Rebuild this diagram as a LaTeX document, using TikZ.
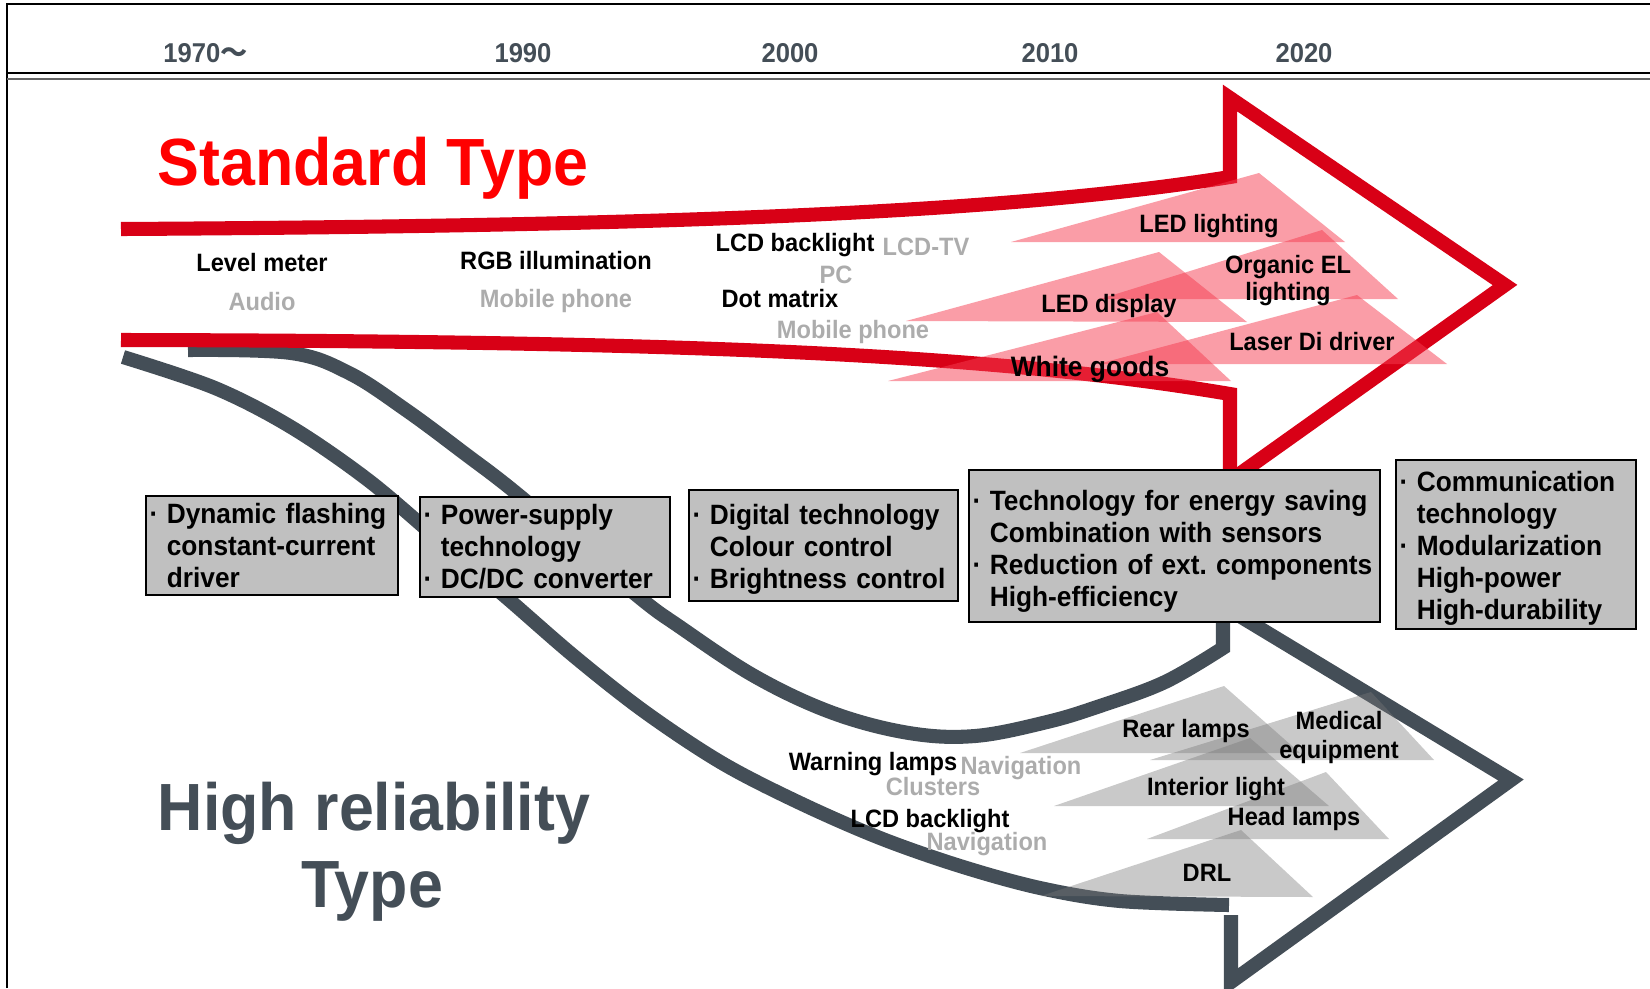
\documentclass[tikz,border=0pt]{standalone}
\usepackage{fontspec}
\setmainfont[FakeStretch=0.94]{Liberation Sans}
\newfontfamily\cjkfont{Noto Sans CJK JP}

\definecolor{stdred}{RGB}{216,0,22}
\definecolor{titlered}{RGB}{255,0,0}
\definecolor{slate}{RGB}{68,78,87}
\definecolor{oldgrey}{RGB}{172,172,172}
\definecolor{boxgrey}{RGB}{192,192,192}
\definecolor{finred}{RGB}{245,60,80}
\definecolor{fingrey}{RGB}{120,120,120}

\newcommand{\techdot}{\makebox[0.62em][l]{·}}
\newcommand{\techpad}{\hspace*{0.62em}}

\begin{document}
\begin{tikzpicture}[x=0.02cm, y=-0.02cm,
    band/.style={line width=8pt, line join=miter},
    redfin/.style={fill=finred, fill opacity=0.5},
    greyfin/.style={fill=fingrey, fill opacity=0.4},
    app/.style={font=\fontsize{14.3}{16}\selectfont\bfseries, inner sep=0pt, anchor=base},
    old/.style={app, text=oldgrey},
    yr/.style={font=\fontsize{15.5}{18}\selectfont\bfseries, text=slate, inner sep=0pt, anchor=base},
    big/.style={font=\fontsize{38}{44}\selectfont\bfseries, inner sep=0pt, anchor=base},
    tech/.style={draw=black, line width=1.1pt, fill=boxgrey, inner xsep=2pt, inner ysep=2pt,
                 align=left, font=\fontsize{15.9}{18.2}\selectfont\bfseries\frenchspacing}]

\useasboundingbox (0,0) rectangle (1650,988);

% frame and time axis
\draw[line width=1.3pt] (7,988) -- (7,4) -- (1650,4);
\draw[line width=1.4pt] (7,73) -- (1650,73);
\draw[line width=1.4pt, black!60] (7,79) -- (1650,79);

\node[yr, anchor=base west] (y70) at (163,62) {1970{\cjkfont ～}};
\node[yr] (y90) at (523,62) {1990};
\node[yr] (y00) at (790,62) {2000};
\node[yr] (y10) at (1050,62) {2010};
\node[yr] (y20) at (1304,62) {2020};

% high reliability arrow
\draw[band, slate] plot[smooth, tension=0.55] coordinates {(123,357) (215,388) (291,427) (368,480) (440,541) (507,598) (575,657) (645,712) (722,763) (800,803) (880,838) (960,866) (1040,888) (1120,901) (1229,905)};
\draw[band, slate] plot[smooth, tension=0.6] coordinates {(188,350) (291,353) (349,373) (406,410) (464,453) (521,497) (634,593) (680,627) (756,677) (833,713) (909,733) (975,736) (1047,722) (1100,706) (1165,682) (1223,648)} -- (1223,612);
\draw[band, slate] (1231,915) -- (1231,982) -- (1511,780) -- (1233,612);

% standard arrow
\draw[band, stdred] (121,229) .. controls (650,226) and (1000,214) .. (1230,177) -- (1230,98) -- (1505,285) -- (1231,480);
\draw[band, stdred] (121,340) .. controls (700,341) and (1000,355) .. (1230,394) -- (1230,480);

% application fins
\fill[redfin] (1011,242) -- (1259,173) -- (1345,242) -- cycle;
\fill[redfin] (1100,299) -- (1322,230) -- (1398,299) -- cycle;
\fill[redfin] (906,321) -- (1159,252) -- (1247,322) -- cycle;
\fill[redfin] (1098,364) -- (1357,295) -- (1447,364) -- cycle;
\fill[redfin] (888,381) -- (1157,312) -- (1231,381) -- cycle;

\fill[greyfin] (1020,753) -- (1224,686) -- (1300,753) -- cycle;
\fill[greyfin] (1150,760) -- (1371,692) -- (1434,760) -- cycle;
\fill[greyfin] (1054,806) -- (1250,738) -- (1329,806) -- cycle;
\fill[greyfin] (1147,839) -- (1326,772) -- (1389,839) -- cycle;
\fill[greyfin] (1041,896) -- (1241,830) -- (1313,897) -- cycle;

% technology boxes
\node[tech, text width=4.90cm, minimum height=1.98cm] (b1) at (272,545.5)
  {\techdot Dynamic flashing\\ \techpad constant-current\\ \techpad driver};
\node[tech, text width=4.86cm, minimum height=2.00cm] (b2) at (545,547)
  {\techdot Power-supply\\ \techpad technology\\ \techdot DC/DC converter};
\node[tech, text width=5.24cm, minimum height=2.22cm] (b3) at (823.5,545.5)
  {\rule{0pt}{15.9pt}\techdot Digital technology\\ \techpad Colour control\\ \techdot Brightness control};
\node[tech, text width=8.08cm, minimum height=3.04cm] (b4) at (1174.5,546)
  {\rule{0pt}{18pt}\techdot Technology for energy saving\\ \techpad Combination with sensors\\ \techdot Reduction of ext.\ components\\ \techpad High-efficiency};
\node[tech, text width=4.66cm, minimum height=3.38cm] (b5) at (1516,544.5)
  {\rule{0pt}{16.2pt}\techdot Communication\\ \techpad technology\\ \techdot Modularization\\ \techpad High-power\\ \techpad High-durability};

% standard type applications
\node[app] (lvl) at (262,271) {Level meter};
\node[old] (aud) at (262,310) {Audio};
\node[app] (rgb) at (556,269) {RGB illumination};
\node[old] (mob1) at (556,307) {Mobile phone};
\node[app] (lcd1) at (795,251) {LCD backlight};
\node[old] (tv) at (926,255) {LCD-TV};
\node[old] (pc) at (836,283) {PC};
\node[app] (dot) at (780,307) {Dot matrix};
\node[old] (mob2) at (853,338) {Mobile phone};
\node[app] (ledl) at (1209,232) {LED lighting};
\node[app] (oel) at (1288,273) {Organic EL};
\node[app] (oel2) at (1288,300) {lighting};
\node[app] (ledd) at (1109,312) {LED display};
\node[app] (lsr) at (1312,350) {Laser Di driver};
\node[app, font=\fontsize{16}{18}\selectfont\bfseries] (wg) at (1090,376) {White goods};

% high reliability applications
\node[app] (warn) at (873,770) {Warning lamps};
\node[old] (nav1) at (1021,774) {Navigation};
\node[old] (clu) at (933,795) {Clusters};
\node[app] (lcd2) at (930,827) {LCD backlight};
\node[old] (nav2) at (987,850) {Navigation};
\node[app] (rear) at (1186,737) {Rear lamps};
\node[app] (med) at (1339,729) {Medical};
\node[app] (med2) at (1339,758) {equipment};
\node[app] (int) at (1216,795) {Interior light};
\node[app] (head) at (1294,825) {Head lamps};
\node[app] (drl) at (1207,881) {DRL};

% type titles
\node[big, text=titlered] (std) at (373,185) {Standard Type};
\node[big, text=slate] (hr1) at (374,830) {High reliability};
\node[big, text=slate] (hr2) at (372,907) {Type};
\end{tikzpicture}
\end{document}
